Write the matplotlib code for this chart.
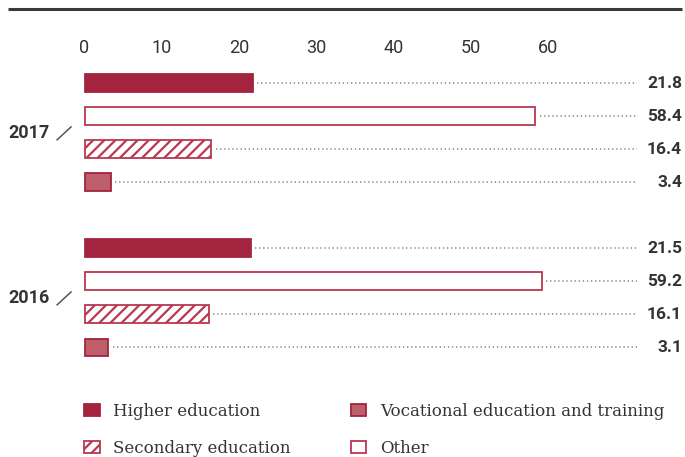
import matplotlib
matplotlib.use("Agg")
import matplotlib.pyplot as plt
from matplotlib.patches import Patch

years = ["2017", "2016"]
categories = ["Higher education", "Other", "Secondary education", "Vocational education and training"]
values_2017 = [21.8, 58.4, 16.4, 3.4]
values_2016 = [21.5, 59.2, 16.1, 3.1]
ticks = [0, 10, 20, 30, 40, 50, 60]
legend_order = ["Higher education", "Secondary education",
                "Vocational education and training", "Other"]

dark_red = "#A4243F"
light_red = "#C05F6C"
edge_red = "#B8384F"
styles = {
    "Higher education": dict(facecolor=dark_red, edgecolor=dark_red, hatch=None),
    "Other": dict(facecolor="white", edgecolor=edge_red, hatch=None),
    "Secondary education": dict(facecolor="white", edgecolor=edge_red, hatch="///"),
    "Vocational education and training": dict(facecolor=light_red, edgecolor=dark_red, hatch=None),
}

plt.rcParams["hatch.color"] = edge_red
plt.rcParams["hatch.linewidth"] = 1.6
sans = ["Roboto", "DejaVu Sans"]
serif = ["DejaVu Serif"]
text_col = "#333333"

fig = plt.figure(figsize=(6.85, 4.57), dpi=100)
ax = fig.add_axes([0, 0, 1, 1])
ax.set_xlim(-10.95, 77.78)
ax.set_ylim(11.33, -2.515)
ax.axis("off")

# top rule
ax.plot([-9.9, 77.4], [-2.24, -2.24], color="#3a3a3a", lw=2.2, solid_capstyle="butt")

# value axis labels along the top
for t in ticks:
    ax.text(t, -1.06, str(t), ha="center", va="center", fontsize=13,
            family=sans, color=text_col)

line_end = 71.5
for g, (year, vals) in enumerate(zip(years, [values_2017, values_2016])):
    base = g * 5
    for i, (cat, v) in enumerate(zip(categories, vals)):
        y = base + i
        ax.barh(y, v, height=0.52, linewidth=1.3, **styles[cat])
        ax.plot([v + 0.6, line_end], [y, y], color="#a0a0a0", lw=1.4,
                linestyle=(0, (0.7, 1.4)))
        ax.text(77.4, y, f"{v:.1f}", ha="right", va="center", fontsize=12.5,
                fontweight="bold", family=sans, color=text_col)
    ax.text(-9.9, base + 1.5, year, ha="left", va="center", fontsize=13,
            fontweight="bold", family=sans, color=text_col)
    # small slash after the year
    ax.plot([-3.55, -1.75], [base + 1.72, base + 1.33], color="#555555", lw=1.1)

handles = [Patch(label=c, linewidth=1.3, **styles[c]) for c in legend_order]
fig.legend(handles=handles, ncol=2, loc="upper left", bbox_to_anchor=(0.1226, 0.118),
           frameon=False, prop={"family": serif, "size": 12}, handlelength=0.95,
           handleheight=0.75, handletextpad=0.8, columnspacing=3.6, labelspacing=1.2,
           labelcolor=text_col, borderpad=0.0, borderaxespad=0.0)

fig.savefig("out.png", dpi=100)
